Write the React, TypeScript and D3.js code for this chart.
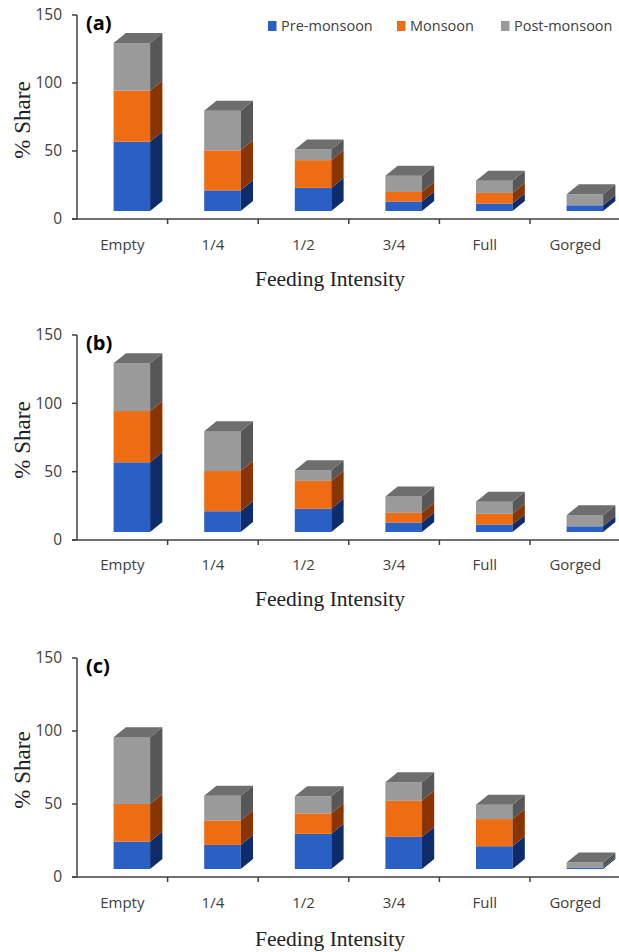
import React from "react";
import * as d3 from "d3";

const categories = ["Empty", "1/4", "1/2", "3/4", "Full", "Gorged"];
const seriesNames = ["Pre-monsoon", "Monsoon", "Post-monsoon"];
const yTicks = [0, 50, 100, 150];

const preA = [51, 15.2, 17, 7, 5.5, 4.2];
const monA = [37.5, 29.4, 20.4, 7, 7.8, 0];
const postA = [35, 29.2, 7.8, 12, 8.9, 8.1];

const preB = [51, 15.2, 17, 7, 5.5, 4.2];
const monB = [37.5, 29.4, 20.4, 7, 7.8, 0];
const postB = [35, 29.2, 7.8, 12, 8.9, 8.1];

const preC = [18.8, 16.5, 24.1, 22, 15.6, 0.8];
const monC = [25.7, 16.8, 14, 24.7, 18.6, 0];
const postC = [45.8, 16.9, 11.7, 12.7, 9.8, 3.6];

const frontColors = ["#2a5fc4", "#ee6d13", "#9a9a9a"];
const sideColors = ["#0c2c6c", "#8a3400", "#575757"];
const topColors = ["#4a74c9", "#b54f0a", "#6e6e6e"];

const SANS = "'Open Sans', 'Noto Sans', sans-serif";
const SERIF = "'Liberation Serif', 'Times New Roman', serif";
const AXIS = "#404040";

type PanelProps = {
  label: string;
  pre: number[];
  mon: number[];
  post: number[];
  y0: number;
  y150: number;
  catY: number;
  titleY: number;
  yTitleY: number;
  legend?: boolean;
};

function Panel({ label, pre, mon, post, y0, y150, catY, titleY, yTitleY, legend }: PanelProps) {
  const left = 77;
  const band = 90.6;
  const x = d3
    .scaleBand<string>()
    .domain(categories)
    .range([left, left + band * categories.length])
    .padding(0);
  const y = d3.scaleLinear().domain([0, 150]).range([y0, y150]);
  const rows = categories.map((c, i) => ({ cat: c, s0: pre[i], s1: mon[i], s2: post[i] }));
  const stack = d3.stack<any>().keys(["s0", "s1", "s2"]);
  const layers = stack(rows);
  const floor = 8;
  const dx = 12.3;
  const dy = 10;
  const barW = 36.5;
  const shift = -8.7;

  const marks: JSX.Element[] = [];
  categories.forEach((c, i) => {
    const cx = (x(c) as number) + x.bandwidth() / 2;
    const x0 = cx + shift;
    const x1 = x0 + barW;
    let topIdx = -1;
    layers.forEach((layer, k) => {
      const [a, b] = layer[i];
      if (b - a <= 0) return;
      topIdx = k;
      const yb = y(a) - floor;
      const yt = y(b) - floor;
      marks.push(
        <rect key={`f${i}-${k}`} x={x0} y={yt} width={barW} height={yb - yt} fill={frontColors[k]} />
      );
      marks.push(
        <path
          key={`s${i}-${k}`}
          d={`M${x1},${yt}L${x1 + dx},${yt - dy}L${x1 + dx},${yb - dy}L${x1},${yb}Z`}
          fill={sideColors[k]}
        />
      );
    });
    if (topIdx >= 0) {
      const yt = y(layers[topIdx][i][1]) - floor;
      marks.push(
        <path
          key={`t${i}`}
          d={`M${x0},${yt}L${x0 + dx},${yt - dy}L${x1 + dx},${yt - dy}L${x1},${yt}Z`}
          fill={topColors[topIdx]}
        />
      );
    }
  });

  const tickXs = categories.slice(1).map((c) => x(c) as number);
  tickXs.push(left + band * categories.length);

  return (
    <g>
      {marks}
      {/* y axis */}
      <line x1={left} x2={left} y1={y(150)} y2={y0} stroke={AXIS} strokeWidth={1.5} />
      {yTicks.map((t) => (
        <g key={t}>
          <line x1={left - 5} x2={left} y1={y(t)} y2={y(t)} stroke={AXIS} strokeWidth={1.5} />
          <text x={62} y={y(t)} dy="0.35em" textAnchor="end" fontFamily={SANS} fontSize={15.5} fill={AXIS}>
            {t}
          </text>
        </g>
      ))}
      {/* x axis */}
      <line x1={left - 5} x2={619} y1={y0} y2={y0} stroke={AXIS} strokeWidth={1.5} />
      {tickXs.map((tx, i) => (
        <line key={i} x1={tx} x2={tx} y1={y0} y2={y0 + 5} stroke={AXIS} strokeWidth={1.5} />
      ))}
      {categories.map((c) => (
        <text
          key={c}
          x={(x(c) as number) + x.bandwidth() / 2}
          y={catY}
          textAnchor="middle"
          fontFamily={SANS}
          fontSize={15}
          fill={AXIS}
        >
          {c}
        </text>
      ))}
      <text x={330} y={titleY} textAnchor="middle" fontFamily={SERIF} fontSize={21.5} fill="#222">
        Feeding Intensity
      </text>
      <text
        transform={`translate(30,${yTitleY}) rotate(-90)`}
        textAnchor="middle"
        fontFamily={SERIF}
        fontSize={23}
        fill="#222"
      >
        % Share
      </text>
      <text x={86} y={y150 + 15} fontFamily={SANS} fontWeight="bold" fontSize={20} fill="#000">
        {label}
      </text>
      {legend && (
        <g>
          {seriesNames.map((n, k) => {
            const lx = [268, 397, 501][k];
            return (
              <g key={n}>
                <rect x={lx} y={21} width={8.5} height={10} fill={frontColors[k]} />
                <text x={lx + 13} y={31} fontFamily={SANS} fontSize={14.5} fill={AXIS}>
                  {n}
                </text>
              </g>
            );
          })}
        </g>
      )}
    </g>
  );
}

export default function App() {
  return (
    <svg
      width={619}
      height={952}
      style={{ position: "absolute", left: 0, top: 0, background: "#fff" }}
    >
      <rect width={619} height={952} fill="#fff" />
      <Panel label="(a)" pre={preA} mon={monA} post={postA} y0={219} y150={15} catY={250} titleY={286} yTitleY={120} legend />
      <Panel label="(b)" pre={preB} mon={monB} post={postB} y0={540} y150={335} catY={570} titleY={606} yTitleY={440} />
      <Panel label="(c)" pre={preC} mon={monC} post={postC} y0={877} y150={658} catY={908} titleY={946} yTitleY={770} />
    </svg>
  );
}
